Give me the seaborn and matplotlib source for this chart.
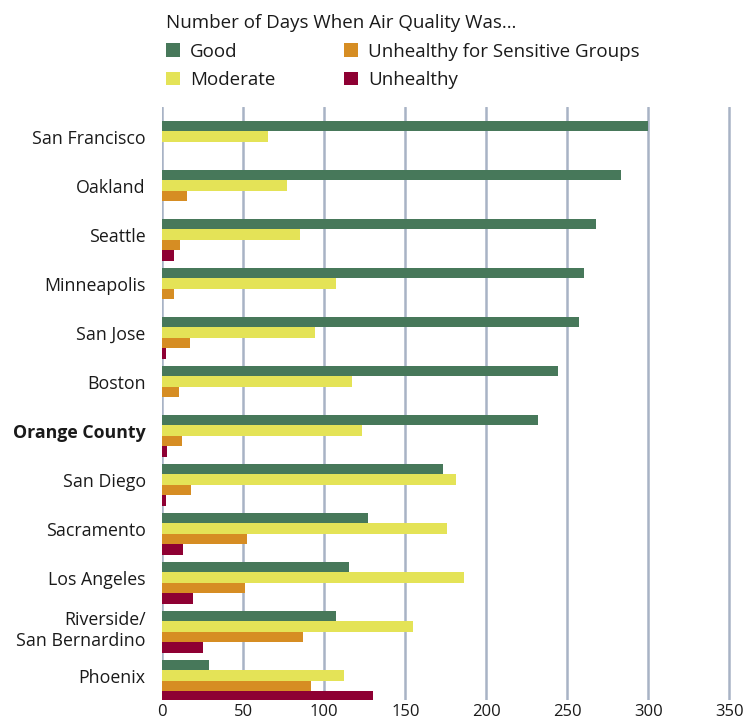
import matplotlib
matplotlib.use("Agg")
import matplotlib.pyplot as plt
import matplotlib.transforms as mtransforms
import seaborn as sns
import pandas as pd
from matplotlib.patches import Patch

cities = ["San Francisco", "Oakland", "Seattle", "Minneapolis", "San Jose", "Boston",
          "Orange County", "San Diego", "Sacramento", "Los Angeles",
          "Riverside/\nSan Bernardino", "Phoenix"]
good = [300, 283, 268, 260, 257, 244, 232, 173, 127, 115, 107, 29]
moderate = [65, 77, 85, 107, 94, 117, 123, 181, 176, 186, 155, 112]
sensitive = [0, 15, 11, 7, 17, 10, 12, 18, 52, 51, 87, 92]
unhealthy = [0, 0, 7, 0, 2, 0, 3, 2, 13, 19, 25, 130]

categories = ["Good", "Moderate", "Unhealthy for Sensitive Groups", "Unhealthy"]
colors = ["#47785a", "#e4e357", "#d68d23", "#8e0033"]
x_ticks = [0, 50, 100, 150, 200, 250, 300, 350]
highlight = "Orange County"

rows = []
for i, c in enumerate(cities):
    for cat, vals in zip(categories, [good, moderate, sensitive, unhealthy]):
        rows.append({"city": c, "quality": cat, "days": vals[i]})
df = pd.DataFrame(rows)

sns.set_style("white")
plt.rcParams["font.family"] = ["Open Sans", "DejaVu Sans"]

W, H = 755, 721
fig = plt.figure(figsize=(W / 100, H / 100), dpi=100)
ax = fig.add_axes([162.3 / W, 1 - 700 / H, (745.5 - 162.3) / W, (700 - 107) / H])

sns.barplot(data=df, y="city", x="days", hue="quality", order=cities,
            hue_order=categories, palette=colors, orient="h", width=0.85,
            saturation=1, dodge=True, legend=False, ax=ax, zorder=3)

for p in ax.patches:
    p.set_linewidth(0)

ax.set_xlim(0, 360)
ax.set_ylim(11.39, -0.71)
ax.set_xticks(x_ticks)
ax.set_xticklabels([str(t) for t in x_ticks], fontsize=12, color="#1a1a1a")
ax.xaxis.grid(True, color="#a8b3c5", linewidth=1.8, zorder=0)
ax.yaxis.grid(False)
ax.set_axisbelow(True)
ax.tick_params(axis="x", length=2.2, width=1.2, color="#a8b3c5", pad=0.7)
ax.tick_params(axis="y", length=0, pad=12)

# category labels sit slightly above the centre of each bar group
lift = mtransforms.ScaledTranslation(0, 5 / 100, fig.dpi_scale_trans)
for lab in ax.get_yticklabels():
    lab.set_fontsize(12.8)
    lab.set_color("#1a1a1a")
    lab.set_transform(lab.get_transform() + lift)
    if lab.get_text() == highlight:
        lab.set_fontweight("bold")
for s in ax.spines.values():
    s.set_visible(False)
ax.set_xlabel("")
ax.set_ylabel("")

handles = [Patch(facecolor=c, edgecolor="none") for c in colors]
leg = fig.legend(handles, categories, loc="upper left",
                 bbox_to_anchor=(165.7 / W, 1 - 14.5 / H), ncol=2,
                 title="Number of Days When Air Quality Was\u2026",
                 frameon=False, fontsize=13.5, title_fontsize=13.5,
                 handlelength=0.75, handleheight=0.75, handletextpad=0.53,
                 columnspacing=3.68, labelspacing=0.55, borderpad=0,
                 borderaxespad=0)
leg._legend_box.align = "left"
for t in leg.get_texts():
    t.set_color("#1a1a1a")
leg.get_title().set_color("#1a1a1a")

fig.savefig("out.png", dpi=100)
